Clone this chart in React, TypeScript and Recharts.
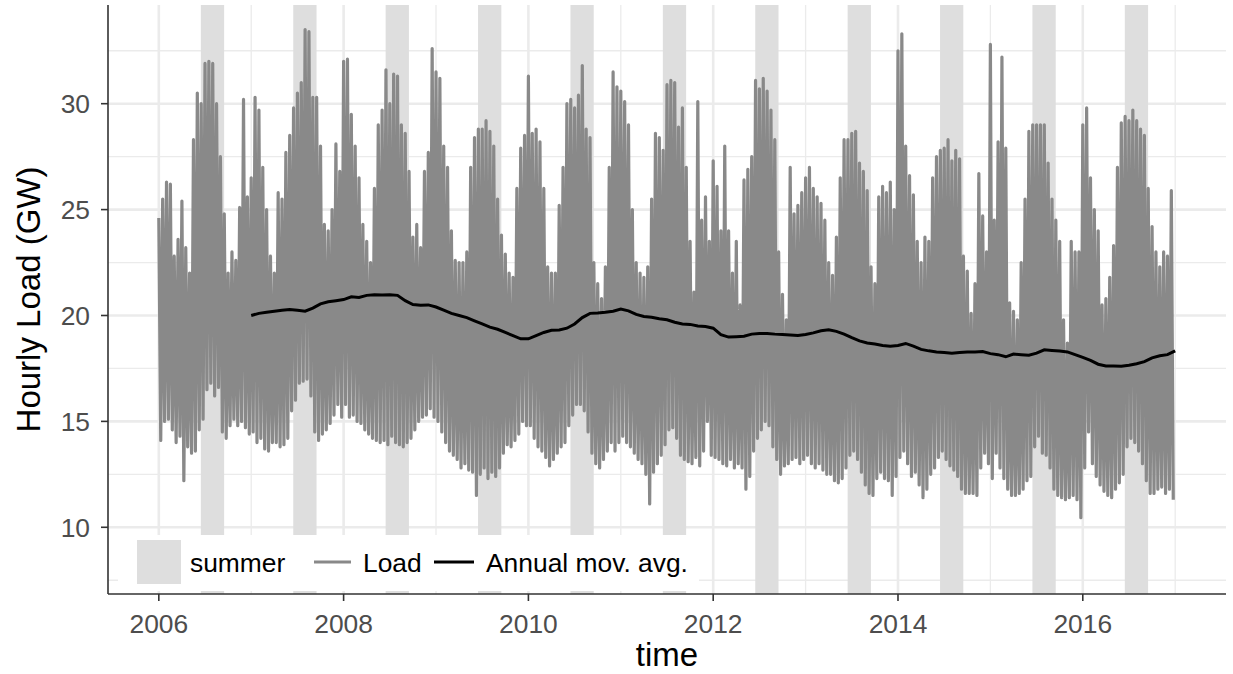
import { CartesianGrid, ComposedChart, Legend, Line, ReferenceArea, XAxis, YAxis } from "recharts";

// Hourly load, summarised as the high and low of each half month (GW), one row per year 2006..2016
const years = [2006, 2007, 2008, 2009, 2010, 2011, 2012, 2013, 2014, 2015, 2016];

const loadPeaks: number[][] = [
  [24.6, 25.5, 26.3, 26.2, 22.8, 23.6, 25.4, 23.2, 22.0, 28.3, 30.5, 30.0, 31.9, 32.0, 31.9, 30.0, 27.5, 24.8, 22.0, 23.0, 22.6, 25.1, 30.2, 25.6],
  [26.5, 30.3, 29.7, 27.0, 25.0, 22.8, 22.0, 25.8, 25.5, 27.7, 28.5, 29.8, 30.5, 31.0, 33.5, 33.4, 30.3, 30.3, 28.0, 24.3, 24.0, 25.0, 28.1, 26.8],
  [32.0, 32.1, 29.5, 28.0, 26.5, 24.3, 23.5, 22.5, 26.0, 29.0, 29.7, 31.6, 30.0, 31.4, 31.3, 29.0, 28.6, 26.8, 23.7, 24.3, 23.2, 26.8, 27.7, 32.6],
  [31.5, 31.2, 28.0, 27.0, 24.0, 22.6, 22.5, 22.5, 23.0, 27.0, 28.4, 28.8, 28.8, 29.2, 28.7, 28.0, 25.5, 23.8, 22.9, 22.0, 21.8, 26.0, 27.9, 28.5],
  [31.3, 28.6, 28.8, 28.2, 26.0, 22.3, 22.0, 22.0, 25.2, 27.0, 30.0, 30.2, 29.8, 30.4, 31.8, 28.8, 28.4, 22.5, 21.5, 20.8, 22.3, 27.0, 31.5, 30.8],
  [30.6, 30.1, 29.0, 25.0, 22.5, 22.0, 21.8, 22.3, 25.5, 28.6, 28.4, 27.8, 30.9, 31.1, 31.0, 28.9, 29.8, 27.0, 23.5, 21.1, 30.1, 24.5, 25.6, 23.5],
  [27.3, 26.1, 24.0, 28.0, 24.0, 22.0, 23.5, 20.5, 26.4, 26.9, 27.5, 31.1, 30.7, 31.2, 30.6, 29.7, 28.3, 23.0, 21.0, 19.8, 27.0, 24.8, 25.2, 25.8],
  [26.5, 27.0, 26.0, 25.6, 25.3, 24.5, 22.5, 21.9, 23.7, 26.5, 28.3, 28.3, 28.6, 28.7, 27.2, 26.8, 25.9, 22.3, 21.5, 25.6, 26.1, 25.8, 26.3, 25.0],
  [32.5, 33.3, 28.0, 26.6, 25.7, 23.5, 22.5, 23.7, 23.5, 26.5, 27.5, 27.8, 27.9, 28.3, 27.3, 27.8, 27.4, 22.8, 22.1, 20.1, 21.5, 26.7, 24.7, 23.0],
  [32.8, 24.5, 28.2, 32.2, 27.9, 20.6, 20.2, 19.8, 22.5, 25.5, 28.7, 29.0, 29.0, 29.0, 29.0, 27.2, 25.5, 24.5, 23.5, 19.8, 18.7, 23.5, 23.0, 23.0],
  [29.0, 29.8, 26.5, 25.0, 24.0, 20.5, 20.8, 21.8, 23.3, 27.0, 29.1, 29.4, 29.2, 29.7, 29.2, 28.8, 28.5, 26.0, 24.2, 23.0, 22.3, 23.0, 22.8, 25.9],
];

const loadTroughs: number[][] = [
  [14.1, 15.0, 15.1, 14.6, 14.0, 14.3, 12.2, 13.8, 13.5, 13.6, 14.6, 15.1, 16.5, 16.8, 16.2, 16.6, 14.5, 14.2, 14.8, 15.1, 14.8, 15.0, 14.7, 14.4],
  [14.5, 14.0, 14.2, 13.7, 13.6, 14.0, 14.0, 13.8, 13.9, 14.2, 15.5, 16.0, 16.8, 16.9, 17.0, 16.2, 14.5, 14.1, 14.4, 14.6, 14.9, 15.3, 15.8, 15.2],
  [15.8, 15.2, 15.3, 15.0, 14.9, 14.6, 14.4, 14.2, 14.1, 14.0, 14.1, 13.9, 14.3, 14.0, 13.9, 13.8, 14.0, 14.2, 14.6, 15.0, 15.2, 15.3, 15.6, 15.2],
  [15.0, 14.5, 14.0, 13.6, 13.4, 13.2, 12.8, 13.0, 12.7, 12.6, 11.5, 12.5, 12.8, 12.3, 12.6, 12.4, 12.8, 13.5, 13.9, 13.8, 14.1, 14.4, 15.0, 14.8],
  [14.8, 14.2, 13.8, 13.6, 13.3, 12.9, 13.2, 13.5, 13.8, 14.0, 14.8, 15.3, 15.8, 15.8, 15.5, 14.5, 13.5, 13.0, 12.8, 13.2, 13.6, 14.0, 13.6, 14.0],
  [14.3, 14.0, 13.8, 13.5, 13.2, 13.0, 12.5, 11.1, 12.6, 13.0, 13.4, 13.9, 14.6, 14.7, 14.2, 13.4, 13.2, 13.1, 13.0, 13.3, 12.9, 13.6, 15.0, 13.4],
  [13.3, 13.2, 13.0, 12.9, 13.2, 12.8, 13.0, 12.8, 11.8, 12.4, 13.6, 14.2, 14.6, 15.0, 14.8, 13.8, 13.2, 12.5, 12.9, 13.0, 13.2, 13.3, 13.0, 13.2],
  [13.4, 13.0, 12.8, 13.0, 12.7, 12.5, 12.5, 12.2, 12.1, 12.3, 12.8, 13.4, 13.6, 13.2, 12.6, 12.0, 11.6, 11.5, 12.3, 12.6, 12.3, 12.2, 11.5, 12.4],
  [13.3, 13.6, 13.0, 12.4, 12.6, 12.0, 11.4, 11.8, 12.5, 12.8, 13.3, 13.6, 13.2, 12.9, 12.7, 12.4, 11.8, 11.6, 11.6, 11.6, 11.5, 12.8, 13.5, 13.0],
  [12.3, 13.5, 12.8, 12.3, 11.8, 11.5, 11.5, 11.6, 11.8, 12.2, 12.4, 13.8, 14.3, 13.5, 13.4, 12.8, 11.8, 11.5, 11.4, 11.3, 11.4, 11.5, 11.3, 10.45],
  [12.8, 14.5, 13.0, 12.4, 12.0, 11.7, 11.5, 11.4, 11.8, 12.1, 12.5, 13.8, 14.2, 14.0, 13.6, 13.0, 12.2, 11.6, 11.6, 11.8, 11.9, 11.6, 11.8, 11.3],
];

// Trailing annual moving average, monthly from Jan 2007 to Jan 2017
const movAvgStart = 2007;
const movAvg = [
  20.0, 20.1, 20.15, 20.2, 20.25, 20.28, 20.25, 20.2, 20.35, 20.55, 20.65, 20.7,
  20.75, 20.88, 20.85, 20.95, 20.98, 20.97, 20.98, 20.95, 20.7, 20.52, 20.48, 20.5,
  20.4, 20.25, 20.1, 20.0, 19.9, 19.75, 19.6, 19.45, 19.35, 19.2, 19.05, 18.9,
  18.9, 19.05, 19.2, 19.3, 19.32, 19.4, 19.6, 19.9, 20.1, 20.12, 20.15, 20.2,
  20.3, 20.22, 20.05, 19.95, 19.92, 19.85, 19.8, 19.68, 19.6, 19.58, 19.5, 19.48,
  19.4, 19.1, 18.98, 19.0, 19.02, 19.12, 19.15, 19.15, 19.12, 19.1, 19.08, 19.05,
  19.1, 19.18, 19.28, 19.33, 19.25, 19.12, 18.95, 18.8, 18.7, 18.65, 18.58, 18.55,
  18.58, 18.68, 18.55, 18.4, 18.33, 18.28, 18.25, 18.22, 18.25, 18.28, 18.28, 18.3,
  18.2, 18.15, 18.05, 18.18, 18.15, 18.12, 18.22, 18.38, 18.35, 18.32, 18.28, 18.15,
  18.02, 17.88, 17.7, 17.62, 17.62, 17.6, 17.65, 17.72, 17.82, 18.0, 18.1, 18.15,
  18.33,
];

// summer = 15 June .. 15 September, as fractions of the year
const summerFrom = 0.455;
const summerTo = 0.707;

const xTicks = [2006, 2008, 2010, 2012, 2014, 2016];
const xMinor = [2007, 2009, 2011, 2013, 2015, 2017];
const yTicks = [10, 15, 20, 25, 30];
const yMinor = [7.5, 12.5, 17.5, 22.5, 27.5, 32.5];

const X_DOMAIN: [number, number] = [2005.45, 2017.55];
const Y_DOMAIN: [number, number] = [6.85, 34.66];

const LOAD_COLOR = "#898989";
const SUMMER_COLOR = "#dedede";
const GRID_COLOR = "#ebebeb";
const FRAME_COLOR = "#333333";
const FONT = "'Liberation Sans', Arial, Helvetica, sans-serif";

// zig-zag between each half-month high and low
const loadData = years.flatMap((year, i) =>
  loadPeaks[i].flatMap((hi, k) => [
    { t: year + k / 24, load: hi },
    { t: year + k / 24 + 1 / 48, load: loadTroughs[i][k] },
  ])
);

const avgData = movAvg.map((v, m) => ({ t: movAvgStart + m / 12, avg: v }));

const tickStyle = { fill: "#4d4d4d", fontSize: 26.4, fontFamily: FONT };

const XTitle = (props: any) => {
  const { viewBox } = props;
  return (
    <text x={viewBox.x + viewBox.width / 2} y={viewBox.y + 72} textAnchor="middle" fontSize={33} fill="#000" fontFamily={FONT}>
      time
    </text>
  );
};

const YTitle = (props: any) => {
  const { viewBox } = props;
  const cx = viewBox.x + 40;
  const cy = viewBox.y + viewBox.height / 2;
  return (
    <text x={cx} y={cy} transform={`rotate(-90, ${cx}, ${cy})`} textAnchor="middle" fontSize={33} fill="#000" fontFamily={FONT}>
      Hourly Load (GW)
    </text>
  );
};

const LegendBox = () => (
  <div style={{ width: 581, height: 56, background: "#fff" }}>
    <svg width={581} height={56} style={{ display: "block" }}>
      <rect x={19} y={5} width={44} height={44} fill={SUMMER_COLOR} />
      <text x={72} y={37} fontSize={26.4} fontFamily={FONT} fill="#000">summer</text>
      <line x1={196} x2={233} y1={27} y2={27} stroke={LOAD_COLOR} strokeWidth={3} />
      <text x={245} y={37} fontSize={26.4} fontFamily={FONT} fill="#000">Load</text>
      <line x1={316} x2={356} y1={27} y2={27} stroke="#000" strokeWidth={3} />
      <text x={368} y={37} fontSize={26.4} fontFamily={FONT} fill="#000">Annual mov. avg.</text>
    </svg>
  </div>
);

export default function App() {
  return (
    <div style={{ position: "absolute", left: 0, top: 0, width: 1233, height: 674, background: "#fff", fontFamily: FONT }}>
      <ComposedChart width={1233} height={674} margin={{ top: 5, right: 7, left: 0, bottom: 0 }}>
        <CartesianGrid horizontalValues={yMinor} verticalValues={xMinor} stroke={GRID_COLOR} strokeWidth={1.3} />
        <CartesianGrid horizontalValues={yTicks} verticalValues={xTicks} stroke={GRID_COLOR} strokeWidth={2.6} />

        {years.map((y) => (
          <ReferenceArea
            key={y}
            x1={y + summerFrom}
            x2={y + summerTo}
            fill={SUMMER_COLOR}
            fillOpacity={1}
            stroke="none"
            ifOverflow="visible"
          />
        ))}

        <XAxis
          dataKey="t"
          type="number"
          domain={X_DOMAIN}
          allowDataOverflow
          ticks={xTicks}
          interval={0}
          height={80}
          tick={tickStyle}
          tickSize={7}
          tickMargin={13}
          axisLine={{ stroke: FRAME_COLOR, strokeWidth: 1.6 }}
          tickLine={{ stroke: FRAME_COLOR, strokeWidth: 1.6 }}
          label={{ content: XTitle }}
        />
        <XAxis
          xAxisId="top"
          orientation="top"
          type="number"
          domain={X_DOMAIN}
          allowDataOverflow
          height={0}
          tick={false}
          tickLine={false}
          axisLine={{ stroke: FRAME_COLOR, strokeWidth: 1.6 }}
        />
        <YAxis
          type="number"
          domain={Y_DOMAIN}
          allowDataOverflow
          ticks={yTicks}
          interval={0}
          width={108}
          tick={tickStyle}
          tickSize={7}
          tickMargin={11}
          axisLine={{ stroke: FRAME_COLOR, strokeWidth: 1.6 }}
          tickLine={{ stroke: FRAME_COLOR, strokeWidth: 1.6 }}
          label={{ content: YTitle }}
        />
        <YAxis
          yAxisId="right"
          orientation="right"
          type="number"
          domain={Y_DOMAIN}
          allowDataOverflow
          width={0}
          tick={false}
          tickLine={false}
          axisLine={{ stroke: FRAME_COLOR, strokeWidth: 1.6 }}
        />

        <Line
          data={loadData}
          dataKey="load"
          type="linear"
          stroke={LOAD_COLOR}
          strokeWidth={3.2}
          strokeLinejoin="round"
          dot={false}
          activeDot={false}
          isAnimationActive={false}
        />
        <Line
          data={avgData}
          dataKey="avg"
          type="linear"
          stroke="#000"
          strokeWidth={3}
          dot={false}
          activeDot={false}
          isAnimationActive={false}
        />

        <Legend
          layout="horizontal"
          align="center"
          verticalAlign="middle"
          content={LegendBox}
          wrapperStyle={{ position: "absolute", left: 118, top: 535, width: 581, height: 56 }}
        />
      </ComposedChart>
    </div>
  );
}
